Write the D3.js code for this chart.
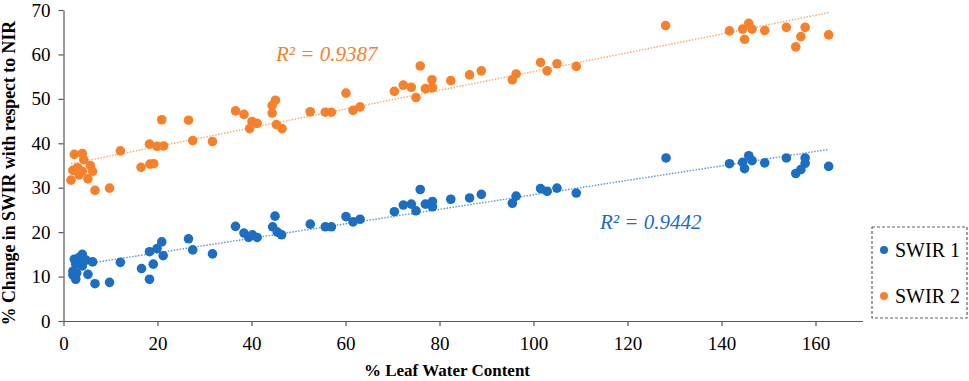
<!DOCTYPE html>
<html>
<head>
<meta charset="utf-8">
<script src="https://cdn.jsdelivr.net/npm/d3@7"></script>
<style>
  body { margin: 0; background: #fff; }
  svg { display: block; font-family: 'Liberation Serif', 'Times New Roman', serif; }
</style>
</head>
<body>
<div id="chart"></div>
<script>
// % leaf water content vs % change in SWIR
const swir1 = [
  [2.0,10.4],[2.0,11.2],[2.3,13.9],[2.6,9.4],[2.6,12.8],[2.8,10.8],[3.3,14.3],[4.0,15.0],[4.0,12.4],
  [4.8,13.7],[5.2,10.5],[6.2,13.3],[6.7,8.4],[9.8,8.7],[12.1,13.2],[16.6,11.8],[18.3,9.4],[19.1,12.8],
  [18.3,15.6],[19.9,16.3],[20.9,17.8],[21.2,14.7],[26.6,18.5],[27.5,16.0],[31.7,15.1],
  [36.6,21.3],[38.4,19.8],[39.4,18.8],[40.2,19.4],[41.2,18.8],[45.0,23.6],[44.5,21.2],[45.5,20.0],
  [46.4,19.4],[52.5,21.8],[55.7,21.2],[57.0,21.2],[60.1,23.5],[61.6,22.3],[63.1,22.9],[70.4,24.6],
  [72.3,26.1],[74.0,26.3],[75.0,24.8],[75.9,29.6],[77.0,26.3],[78.5,26.9],[78.5,25.7],[82.4,27.4],
  [86.4,27.7],[88.9,28.5],[95.5,26.5],[96.3,28.1],[101.5,29.8],[102.9,29.2],[105.0,29.9],[109.1,28.8],
  [128.2,36.7],[141.7,35.4],[144.5,35.7],[145.8,37.2],[146.5,36.1],[144.9,34.3],[149.2,35.6],
  [153.8,36.7],[157.8,36.7],[157.8,35.5],[156.9,34.1],[155.8,33.2],[162.8,34.8]
]
const swir2 = [
  [1.6,31.7],[2.0,33.9],[2.3,37.5],[3.0,34.5],[3.3,32.9],[4.0,37.7],[4.0,33.7],[4.3,36.3],[5.2,32.0],
  [5.7,35.0],[6.2,33.7],[6.7,29.4],[9.8,29.9],[12.1,38.3],[16.5,34.6],[18.3,39.8],[18.4,35.3],[19.2,35.4],
  [19.9,39.3],[20.9,45.3],[21.3,39.4],[26.6,45.2],[27.5,40.6],[31.7,40.4],
  [36.6,47.3],[38.4,46.5],[40.1,44.9],[41.2,44.5],[39.6,43.3],[44.4,46.8],[44.4,48.5],[45.1,49.7],
  [45.3,44.2],[46.5,43.3],[52.5,47.1],[55.7,47.0],[57.0,47.0],[60.1,51.3],[61.6,47.4],[63.1,48.2],
  [70.4,51.7],[72.3,53.1],[74.0,52.6],[75.0,50.3],[75.9,57.4],[77.0,52.3],[78.5,52.5],[78.4,54.3],
  [82.4,54.1],[86.4,55.4],[88.9,56.3],[95.5,54.3],[96.3,55.6],[101.5,58.2],[102.9,56.3],[105.0,57.9],
  [109.1,57.3],[128.1,66.5],[141.7,65.3],[144.5,65.7],[145.8,67.0],[146.5,65.7],[144.9,63.4],
  [149.2,65.4],[153.8,66.1],[157.8,66.1],[156.9,64.0],[155.8,61.7],[162.8,64.4]
]
const seriesNames = ['SWIR 1', 'SWIR 2']
const r2Labels = ['R² = 0.9442', 'R² = 0.9387']
const xTicks = [0, 20, 40, 60, 80, 100, 120, 140, 160]
const yTicks = [0, 10, 20, 30, 40, 50, 60, 70]

const colors = ['#1b6ec2', '#f7812a'],
  lineColors = ['#5b95d6', '#f9a86a']

const margin = {top: 10, right: 106.5, bottom: 60, left: 63.5},
  W = 969, H = 381,
  width = W - margin.left - margin.right,
  height = H - margin.top - margin.bottom

const xScale = d3.scaleLinear().domain([0, 170]).range([0, width])
const yScale = d3.scaleLinear().domain([0, 70]).range([height, 0])

const svg = d3.select('#chart').append('svg')
  .attr('width', W)
  .attr('height', H)

const g = svg.append('g')
  .attr('transform', `translate(${margin.left}, ${margin.top})`)

// axes
const xAxis = g.append('g')
  .attr('transform', `translate(0, ${height})`)
  .call(d3.axisBottom(xScale).tickValues(xTicks).tickSize(5).tickSizeOuter(0).tickPadding(11))
const yAxis = g.append('g')
  .call(d3.axisLeft(yScale).tickValues(yTicks).tickSize(5).tickSizeOuter(0).tickPadding(8))
;[xAxis, yAxis].forEach(a => {
  a.selectAll('path, line').attr('stroke', '#595959').attr('stroke-width', 1.2)
  a.selectAll('text').attr('fill', '#000').style('font-size', '19px').style('font-family', 'Liberation Serif')
})

// least squares trendline (like the spreadsheet one)
function fit(pts) {
  const mx = d3.mean(pts, d => d[0]),
    my = d3.mean(pts, d => d[1])
  const b = d3.sum(pts, d => (d[0]-mx)*(d[1]-my)) / d3.sum(pts, d => (d[0]-mx)**2)
  const a = my - b*mx
  const ext = d3.extent(pts, d => d[0])
  return ext.map(x => [x, a + b*x])
}

const all = [swir1, swir2]
all.forEach((pts, i) => {
  const ln = fit(pts)
  g.append('line')
    .attr('x1', xScale(ln[0][0]))
    .attr('y1', yScale(ln[0][1]))
    .attr('x2', xScale(ln[1][0]))
    .attr('y2', yScale(ln[1][1]))
    .attr('stroke', lineColors[i])
    .attr('stroke-width', 1.4)
    .attr('stroke-dasharray', '1.5,1.5')
})

all.forEach((pts, i) => {
  g.append('g').selectAll('circle')
    .data(pts)
    .enter().append('circle')
    .attr('cx', d => xScale(d[0]))
    .attr('cy', d => yScale(d[1]))
    .attr('r', 4.8)
    .attr('fill', colors[i])
})

// R² labels
svg.append('text')
  .attr('x', 600).attr('y', 229)
  .attr('fill', colors[0])
  .style('font-size', '21px').style('font-style', 'italic')
  .text(r2Labels[0])
svg.append('text')
  .attr('x', 276).attr('y', 61)
  .attr('fill', colors[1])
  .style('font-size', '21px').style('font-style', 'italic')
  .text(r2Labels[1])

// axis titles
svg.append('text')
  .attr('x', 447).attr('y', 376)
  .attr('text-anchor', 'middle')
  .style('font-size', '17px').style('font-weight', 'bold')
  .text('% Leaf Water Content')
svg.append('text')
  .attr('transform', 'translate(15, 173) rotate(-90)')
  .attr('text-anchor', 'middle')
  .style('font-size', '17.8px').style('font-weight', 'bold')
  .text('% Change in SWIR with respect to NIR')

// legend
const legend = svg.append('g').attr('transform', 'translate(872, 227)')
legend.append('rect')
  .attr('width', 95).attr('height', 91)
  .attr('fill', 'none')
  .attr('stroke', '#606060')
  .attr('stroke-width', 1.2)
  .attr('stroke-dasharray', '3,2')
seriesNames.forEach((name, i) => {
  const row = legend.append('g').attr('transform', `translate(0, ${23 + i*46})`)
  row.append('circle').attr('cx', 12).attr('cy', 0).attr('r', 4).attr('fill', colors[i])
  row.append('text')
    .attr('x', 23).attr('y', 7)
    .style('font-size', '20px')
    .text(name)
})
</script>
</body>
</html>
